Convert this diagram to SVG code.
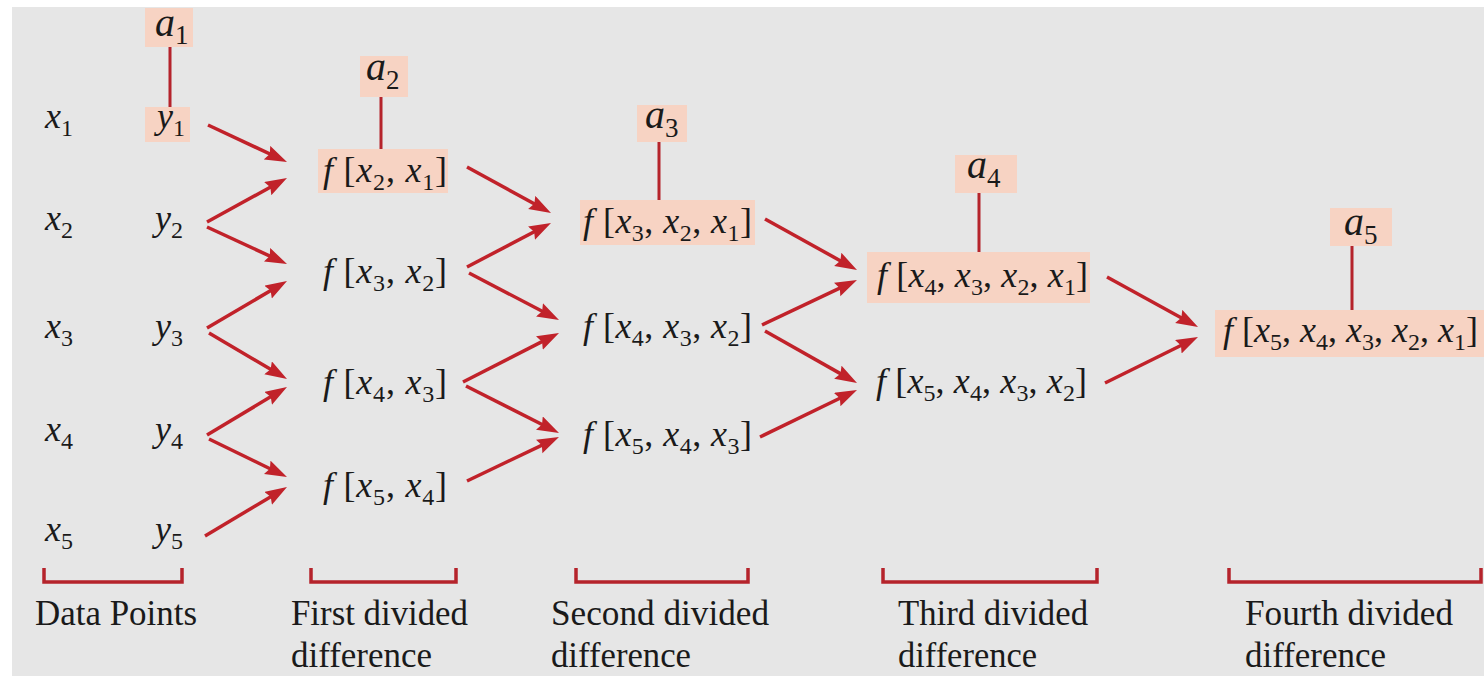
<svg xmlns="http://www.w3.org/2000/svg" width="1484" height="676" viewBox="0 0 1484 676">
<defs>
<style>
text{font-family:"Liberation Serif","Times New Roman",serif;fill:#1a1a1a}
.m{font-size:36px}
.i{font-style:italic}
.sb{font-size:24px}
.am{font-size:40px}
.asb{font-size:27px}
.lbl{font-size:35px}
.hl{fill:#f7d3c3}
.stem{stroke:#b5232b;stroke-width:3}
.br{fill:none;stroke:#b5232b;stroke-width:3.5}
.arr line{stroke:#c1222a;stroke-width:3.5;marker-end:url(#ah)}
</style>
<marker id="ah" markerUnits="userSpaceOnUse" markerWidth="24" markerHeight="16" refX="22" refY="7.5" orient="auto">
<path d="M0,0 L22,7.5 L0,15 L3,7.5 Z" fill="#c1222a"/>
</marker>
</defs>
<rect x="0" y="0" width="1484" height="676" fill="#ffffff"/>
<rect x="12" y="7" width="1472" height="669" fill="#e6e6e6"/>

<g id="data-points">
<text class="m" x="45" y="128"><tspan class="i">x</tspan><tspan class="sb" dy="8">1</tspan></text>
<text class="m" x="45" y="230"><tspan class="i">x</tspan><tspan class="sb" dy="8">2</tspan></text>
<text class="m" x="45" y="338"><tspan class="i">x</tspan><tspan class="sb" dy="8">3</tspan></text>
<text class="m" x="45" y="441"><tspan class="i">x</tspan><tspan class="sb" dy="8">4</tspan></text>
<text class="m" x="45" y="541"><tspan class="i">x</tspan><tspan class="sb" dy="8">5</tspan></text>
</g>

<g id="a1">
<rect class="hl" x="145" y="8" width="48" height="39"/>
<text class="am" x="155" y="36"><tspan class="i">a</tspan><tspan class="asb" dy="8">1</tspan></text>
<line class="stem" x1="170" y1="47" x2="170" y2="107"/>
</g>
<g id="y1">
<rect class="hl" x="145" y="107" width="45" height="35"/>
<text class="m" x="157" y="128"><tspan class="i">y</tspan><tspan class="sb" dy="8">1</tspan></text>
</g>
<g id="y2"><text class="m" x="155" y="230"><tspan class="i">y</tspan><tspan class="sb" dy="8">2</tspan></text></g>
<g id="y3"><text class="m" x="155" y="338"><tspan class="i">y</tspan><tspan class="sb" dy="8">3</tspan></text></g>
<g id="y4"><text class="m" x="155" y="441"><tspan class="i">y</tspan><tspan class="sb" dy="8">4</tspan></text></g>
<g id="y5"><text class="m" x="155" y="541"><tspan class="i">y</tspan><tspan class="sb" dy="8">5</tspan></text></g>

<g id="a2">
<rect class="hl" x="360" y="56" width="48" height="41"/>
<text class="am" x="366" y="80"><tspan class="i">a</tspan><tspan class="asb" dy="9">2</tspan></text>
<line class="stem" x1="381" y1="97" x2="381" y2="149"/>
</g>
<g id="f21">
<rect class="hl" x="318" y="149" width="130" height="44"/>
<text class="m" x="323" y="182" textLength="124" lengthAdjust="spacing"><tspan class="i">f</tspan> [<tspan class="i">x</tspan><tspan class="sb" dy="8">2</tspan><tspan dy="-8">, </tspan><tspan class="i">x</tspan><tspan class="sb" dy="8">1</tspan><tspan dy="-8">]</tspan></text>
</g>
<g id="f32">
<text class="m" x="323" y="283" textLength="124" lengthAdjust="spacing"><tspan class="i">f</tspan> [<tspan class="i">x</tspan><tspan class="sb" dy="8">3</tspan><tspan dy="-8">, </tspan><tspan class="i">x</tspan><tspan class="sb" dy="8">2</tspan><tspan dy="-8">]</tspan></text>
</g>
<g id="f43">
<text class="m" x="323" y="394" textLength="124" lengthAdjust="spacing"><tspan class="i">f</tspan> [<tspan class="i">x</tspan><tspan class="sb" dy="8">4</tspan><tspan dy="-8">, </tspan><tspan class="i">x</tspan><tspan class="sb" dy="8">3</tspan><tspan dy="-8">]</tspan></text>
</g>
<g id="f54">
<text class="m" x="323" y="497" textLength="124" lengthAdjust="spacing"><tspan class="i">f</tspan> [<tspan class="i">x</tspan><tspan class="sb" dy="8">5</tspan><tspan dy="-8">, </tspan><tspan class="i">x</tspan><tspan class="sb" dy="8">4</tspan><tspan dy="-8">]</tspan></text>
</g>

<g id="a3">
<rect class="hl" x="637" y="105" width="50" height="37"/>
<text class="am" x="645" y="128"><tspan class="i">a</tspan><tspan class="asb" dy="9">3</tspan></text>
<line class="stem" x1="659" y1="142" x2="659" y2="200"/>
</g>
<g id="f321">
<rect class="hl" x="580" y="200" width="175" height="45"/>
<text class="m" x="583" y="233" textLength="169" lengthAdjust="spacing"><tspan class="i">f</tspan> [<tspan class="i">x</tspan><tspan class="sb" dy="8">3</tspan><tspan dy="-8">, </tspan><tspan class="i">x</tspan><tspan class="sb" dy="8">2</tspan><tspan dy="-8">, </tspan><tspan class="i">x</tspan><tspan class="sb" dy="8">1</tspan><tspan dy="-8">]</tspan></text>
</g>
<g id="f432">
<text class="m" x="583" y="338" textLength="169" lengthAdjust="spacing"><tspan class="i">f</tspan> [<tspan class="i">x</tspan><tspan class="sb" dy="8">4</tspan><tspan dy="-8">, </tspan><tspan class="i">x</tspan><tspan class="sb" dy="8">3</tspan><tspan dy="-8">, </tspan><tspan class="i">x</tspan><tspan class="sb" dy="8">2</tspan><tspan dy="-8">]</tspan></text>
</g>
<g id="f543">
<text class="m" x="583" y="446" textLength="169" lengthAdjust="spacing"><tspan class="i">f</tspan> [<tspan class="i">x</tspan><tspan class="sb" dy="8">5</tspan><tspan dy="-8">, </tspan><tspan class="i">x</tspan><tspan class="sb" dy="8">4</tspan><tspan dy="-8">, </tspan><tspan class="i">x</tspan><tspan class="sb" dy="8">3</tspan><tspan dy="-8">]</tspan></text>
</g>

<g id="a4">
<rect class="hl" x="955" y="155" width="62" height="38"/>
<text class="am" x="967" y="178"><tspan class="i">a</tspan><tspan class="asb" dy="9">4</tspan></text>
<line class="stem" x1="979" y1="193" x2="979" y2="252"/>
</g>
<g id="f4321">
<rect class="hl" x="867" y="252" width="223" height="51"/>
<text class="m" x="877" y="287" textLength="211" lengthAdjust="spacing"><tspan class="i">f</tspan> [<tspan class="i">x</tspan><tspan class="sb" dy="8">4</tspan><tspan dy="-8">, </tspan><tspan class="i">x</tspan><tspan class="sb" dy="8">3</tspan><tspan dy="-8">, </tspan><tspan class="i">x</tspan><tspan class="sb" dy="8">2</tspan><tspan dy="-8">, </tspan><tspan class="i">x</tspan><tspan class="sb" dy="8">1</tspan><tspan dy="-8">]</tspan></text>
</g>
<g id="f5432">
<text class="m" x="876" y="393" textLength="211" lengthAdjust="spacing"><tspan class="i">f</tspan> [<tspan class="i">x</tspan><tspan class="sb" dy="8">5</tspan><tspan dy="-8">, </tspan><tspan class="i">x</tspan><tspan class="sb" dy="8">4</tspan><tspan dy="-8">, </tspan><tspan class="i">x</tspan><tspan class="sb" dy="8">3</tspan><tspan dy="-8">, </tspan><tspan class="i">x</tspan><tspan class="sb" dy="8">2</tspan><tspan dy="-8">]</tspan></text>
</g>

<g id="a5">
<rect class="hl" x="1330" y="208" width="62" height="38"/>
<text class="am" x="1344" y="235"><tspan class="i">a</tspan><tspan class="asb" dy="9">5</tspan></text>
<line class="stem" x1="1352" y1="246" x2="1352" y2="310"/>
</g>
<g id="f54321">
<rect class="hl" x="1215" y="310" width="269" height="47"/>
<text class="m" x="1223" y="342" textLength="255" lengthAdjust="spacing"><tspan class="i">f</tspan> [<tspan class="i">x</tspan><tspan class="sb" dy="8">5</tspan><tspan dy="-8">, </tspan><tspan class="i">x</tspan><tspan class="sb" dy="8">4</tspan><tspan dy="-8">, </tspan><tspan class="i">x</tspan><tspan class="sb" dy="8">3</tspan><tspan dy="-8">, </tspan><tspan class="i">x</tspan><tspan class="sb" dy="8">2</tspan><tspan dy="-8">, </tspan><tspan class="i">x</tspan><tspan class="sb" dy="8">1</tspan><tspan dy="-8">]</tspan></text>
</g>

<g id="connectors" class="arr">
<line x1="208" y1="125" x2="287" y2="162" pathLength="100" stroke-dasharray="92 100"/>
<line x1="207" y1="222" x2="287" y2="178" pathLength="100" stroke-dasharray="92 100"/>
<line x1="207" y1="227" x2="287" y2="264" pathLength="100" stroke-dasharray="92 100"/>
<line x1="207" y1="328" x2="287" y2="281" pathLength="100" stroke-dasharray="92 100"/>
<line x1="209" y1="333" x2="287" y2="379" pathLength="100" stroke-dasharray="92 100"/>
<line x1="207" y1="435" x2="287" y2="387" pathLength="100" stroke-dasharray="92 100"/>
<line x1="209" y1="439" x2="287" y2="477" pathLength="100" stroke-dasharray="92 100"/>
<line x1="205" y1="536" x2="287" y2="487" pathLength="100" stroke-dasharray="92 100"/>
<line x1="467" y1="167" x2="551" y2="213" pathLength="100" stroke-dasharray="92 100"/>
<line x1="467" y1="267" x2="551" y2="223" pathLength="100" stroke-dasharray="92 100"/>
<line x1="469" y1="273" x2="559" y2="320" pathLength="100" stroke-dasharray="92 100"/>
<line x1="463" y1="382" x2="559" y2="333" pathLength="100" stroke-dasharray="93 100"/>
<line x1="466" y1="386" x2="559" y2="433" pathLength="100" stroke-dasharray="93 100"/>
<line x1="467" y1="481" x2="559" y2="437" pathLength="100" stroke-dasharray="93 100"/>
<line x1="765" y1="219" x2="857" y2="270" pathLength="100" stroke-dasharray="93 100"/>
<line x1="762" y1="325" x2="857" y2="280" pathLength="100" stroke-dasharray="93 100"/>
<line x1="765" y1="331" x2="857" y2="383" pathLength="100" stroke-dasharray="93 100"/>
<line x1="760" y1="437" x2="857" y2="390" pathLength="100" stroke-dasharray="93 100"/>
<line x1="1107" y1="277" x2="1198" y2="327" pathLength="100" stroke-dasharray="93 100"/>
<line x1="1105" y1="383" x2="1198" y2="337" pathLength="100" stroke-dasharray="93 100"/>
</g>

<g id="brackets">
<path class="br" d="M44,568 V582 H182 V568"/>
<path class="br" d="M311,568 V582 H456 V568"/>
<path class="br" d="M576,568 V582 H748 V568"/>
<path class="br" d="M883,568 V582 H1097 V568"/>
<path class="br" d="M1229,568 V582 H1481 V568"/>
</g>

<g id="labels">
<text class="lbl" x="35" y="625" textLength="162" lengthAdjust="spacingAndGlyphs">Data Points</text>
<text class="lbl" x="291" y="625" textLength="177" lengthAdjust="spacingAndGlyphs">First divided</text>
<text class="lbl" x="291" y="667" textLength="141" lengthAdjust="spacingAndGlyphs">difference</text>
<text class="lbl" x="551" y="625" textLength="218" lengthAdjust="spacingAndGlyphs">Second divided</text>
<text class="lbl" x="551" y="667" textLength="140" lengthAdjust="spacingAndGlyphs">difference</text>
<text class="lbl" x="898" y="625" textLength="190" lengthAdjust="spacingAndGlyphs">Third divided</text>
<text class="lbl" x="898" y="667" textLength="139" lengthAdjust="spacingAndGlyphs">difference</text>
<text class="lbl" x="1245" y="625" textLength="208" lengthAdjust="spacingAndGlyphs">Fourth divided</text>
<text class="lbl" x="1245" y="667" textLength="141" lengthAdjust="spacingAndGlyphs">difference</text>
</g>
</svg>
